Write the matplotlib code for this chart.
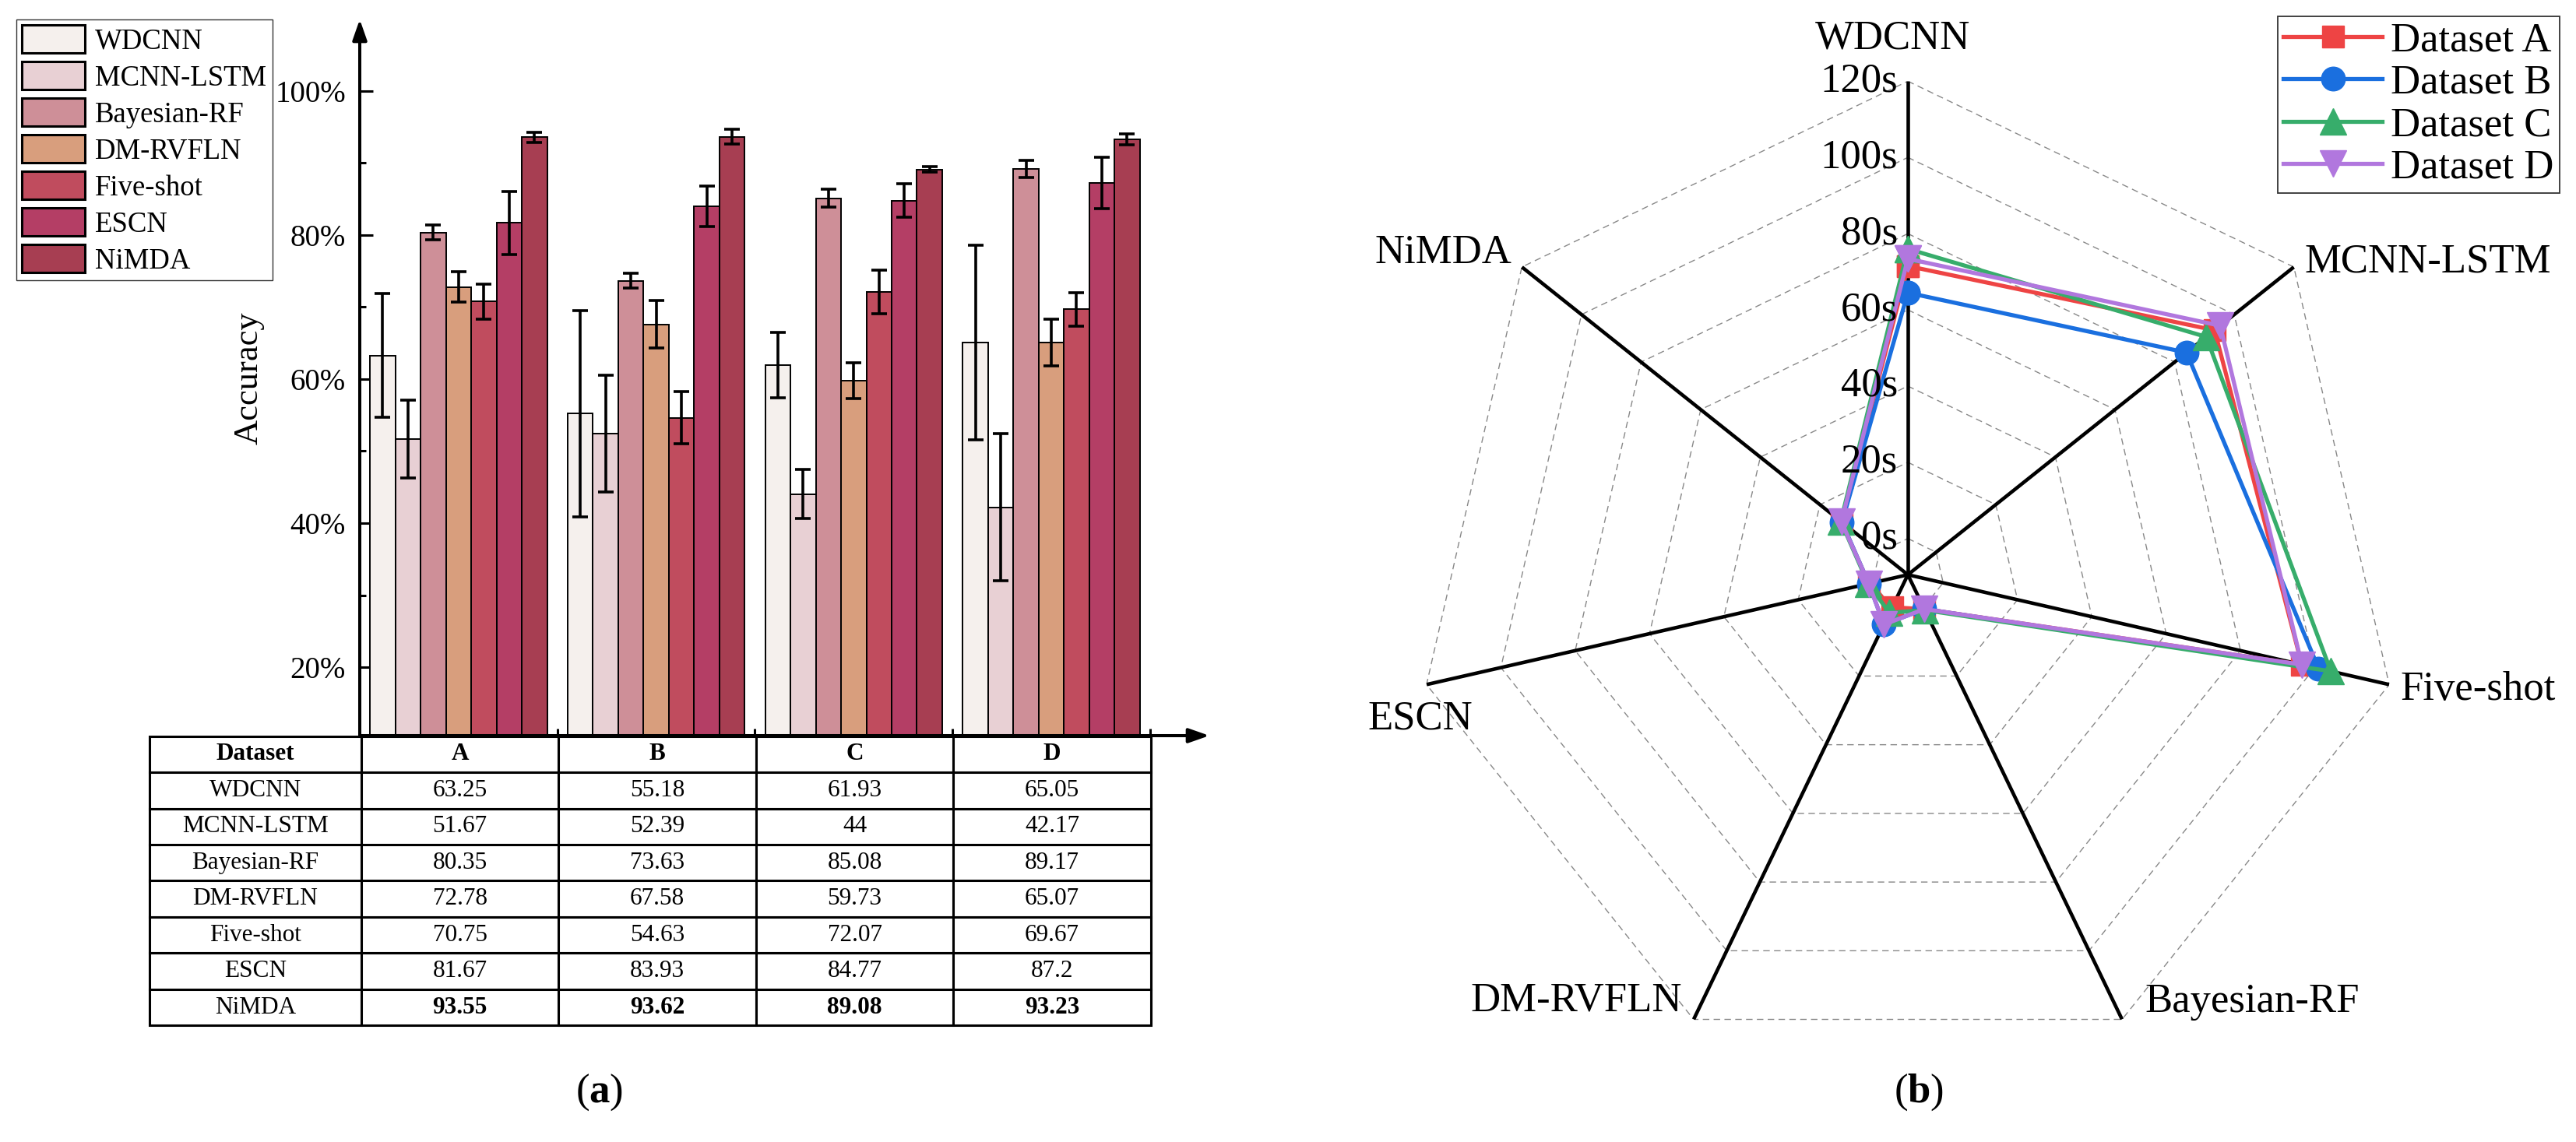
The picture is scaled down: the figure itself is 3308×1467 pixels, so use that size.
import numpy as np
import matplotlib
matplotlib.use('Agg')
import matplotlib.pyplot as plt
from matplotlib.patches import Patch

plt.rcParams['font.family'] = ['Liberation Serif', 'DejaVu Serif']
plt.rcParams['mathtext.fontset'] = 'custom'
plt.rcParams['mathtext.rm'] = 'Liberation Serif'
plt.rcParams['mathtext.bf'] = 'Liberation Serif:bold'

# ---- data: accuracy (%) per method on datasets A-D ----
datasets = ['A', 'B', 'C', 'D']
methods = ['WDCNN', 'MCNN-LSTM', 'Bayesian-RF', 'DM-RVFLN', 'Five-shot', 'ESCN', 'NiMDA']
acc_wdcnn = [63.25, 55.18, 61.93, 65.05]
acc_mcnn = [51.67, 52.39, 44, 42.17]
acc_bayes = [80.35, 73.63, 85.08, 89.17]
acc_dm = [72.78, 67.58, 59.73, 65.07]
acc_five = [70.75, 54.63, 72.07, 69.67]
acc_escn = [81.67, 83.93, 84.77, 87.2]
acc_nimda = [93.55, 93.62, 89.08, 93.23]
# error bar half widths
err_wdcnn = [8.6, 14.3, 4.5, 13.5]
err_mcnn = [5.4, 8.1, 3.4, 10.2]
err_bayes = [1.0, 1.0, 1.25, 1.15]
err_dm = [2.1, 3.3, 2.5, 3.2]
err_five = [2.4, 3.6, 3.0, 2.35]
err_escn = [4.4, 2.8, 2.35, 3.55]
err_nimda = [0.7, 1.0, 0.35, 0.75]

acc = [acc_wdcnn, acc_mcnn, acc_bayes, acc_dm, acc_five, acc_escn, acc_nimda]
err = [err_wdcnn, err_mcnn, err_bayes, err_dm, err_five, err_escn, err_nimda]
bar_colors = ['#F5F0ED', '#E8D0D4', '#CE8F98', '#D89E7D', '#C04C5E', '#B43E65', '#A73E52']

# ---- data: running time (s) for the radar chart ----
radar_axes = ['WDCNN', 'MCNN-LSTM', 'Five-shot', 'Bayesian-RF', 'DM-RVFLN', 'ESCN', 'NiMDA']
time_a = [71.5, 93.4, 96.5, 0.5, 0.0, 1.0, 12.8]
time_b = [64.5, 84.0, 101.0, 0.5, 5.0, 1.0, 12.6]
time_c = [76.0, 90.6, 104.3, 0.8, 1.6, 1.2, 13.0]
time_d = [73.4, 95.3, 96.5, 0.5, 5.0, 1.0, 12.8]
radar_ticks = [0, 20, 40, 60, 80, 100, 120]

W, H = 3308, 1467
fig = plt.figure(figsize=(W / 100, H / 100), dpi=100)


def box(x0, y0, x1, y1):
    # pixel box (top-left origin) -> figure fraction rect
    return [x0 / W, 1 - y1 / H, (x1 - x0) / W, (y1 - y0) / H]


# ================= (a) bar chart =================
ax = fig.add_axes(box(462, 25, 1553, 945))
ymin, ymax, xmax = 10.5, 109.9, 4.3
ax.set_xlim(0, xmax)
ax.set_ylim(ymin, ymax)
bw = 0.128
xc = np.arange(len(datasets)) + 0.5
for j, (vals, errs, col) in enumerate(zip(acc, err, bar_colors)):
    ax.bar(xc + (j - 3) * bw, vals, bw, yerr=errs, color=col, edgecolor='k',
           linewidth=1.4, capsize=7,
           error_kw=dict(elinewidth=2.6, capthick=2.6, ecolor='k'), zorder=2)

for s in ax.spines.values():
    s.set_visible(False)
arrow = dict(arrowstyle='-|>,head_length=0.4,head_width=0.14', mutation_scale=40,
             lw=2.9, color='k', shrinkA=0, shrinkB=0)
ax.annotate('', xy=(0, ymax), xytext=(0, ymin), arrowprops=arrow, annotation_clip=False)
ax.annotate('', xy=(xmax, ymin), xytext=(0, ymin), arrowprops=arrow, annotation_clip=False)

ax.set_yticks([20, 40, 60, 80, 100])
ax.set_yticklabels(['20%', '40%', '60%', '80%', '100%'])
ax.set_yticks([30, 50, 70, 90], minor=True)
ax.set_xticks([1, 2, 3, 4])
ax.set_xticklabels([])
ax.set_xticks(xc, minor=True)
ax.tick_params(axis='y', which='major', direction='in', length=12, width=2.2, labelsize=28, pad=13)
ax.tick_params(axis='y', which='minor', direction='in', length=6, width=2.2)
ax.tick_params(axis='x', which='major', direction='in', length=6.5, width=2.2)
ax.tick_params(axis='x', which='minor', direction='in', length=12, width=2.2)
fig.text(320 / W, 1 - 486 / H, 'Accuracy', rotation=90, ha='center', va='center', fontsize=32)

handles = [Patch(facecolor=c, edgecolor='k', linewidth=2.2) for c in bar_colors]
leg = fig.legend(handles, methods, loc='upper left', bbox_to_anchor=(21 / W, 1 - 25 / H),
                 fontsize=26.5, frameon=True, fancybox=False, edgecolor='k',
                 borderpad=0.2, labelspacing=0.24, handlelength=2.2, handleheight=1.1,
                 handletextpad=0.35, borderaxespad=0)
leg.get_frame().set_linewidth(1.0)

# table under the bars
tax = fig.add_axes(box(191.7, 945.7, 1477.7, 1317.3))
tax.axis('off')
cell_text = [['Dataset'] + datasets]
for m, vals in zip(methods, acc):
    cell_text.append([m] + [f'{v:g}' for v in vals])
tbl = tax.table(cellText=cell_text, cellLoc='center', bbox=[0, 0, 1, 1],
                colWidths=[272.3] + [253.5] * 4)
tbl.auto_set_font_size(False)
tbl.set_fontsize(22.5)
for (r, c), cell in tbl.get_celld().items():
    cell.set_linewidth(2.2)
    if r == 0 or (r == len(methods) and c > 0):
        cell.get_text().set_fontweight('bold')

fig.text(770 / W, 1 - 1403 / H, r'($\mathbf{a}$)', ha='center', va='center', fontsize=38)

# ================= (b) radar chart =================
rax = fig.add_axes(box(1816, 104.3, 3084, 1372.3), projection='polar')
rax.set_theta_offset(np.pi / 2)
rax.set_theta_direction(-1)
rmin = -9.5
rax.set_ylim(rmin, radar_ticks[-1])
rax.grid(False)
rax.set_xticks([])
rax.set_yticks([])
rax.spines['polar'].set_visible(False)

angles = np.arange(len(radar_axes)) * 2 * np.pi / len(radar_axes)
closed = np.append(angles, angles[0])
for r in radar_ticks:
    rax.plot(closed, np.full(len(closed), r), color='#888888', lw=1.0,
             ls=(0, (6, 4)), zorder=1)
for a in angles:
    rax.plot([a, a], [rmin, radar_ticks[-1]], color='k', lw=3.3, zorder=2,
             solid_capstyle='butt')

series = [('A', time_a, '#EE4444', 's', 20), ('B', time_b, '#1A6FDF', 'o', 22),
          ('C', time_c, '#37AD6B', '^', 25), ('D', time_d, '#B177DE', 'v', 25)]
for name, vals, col, mk, ms in series:
    rax.plot(closed, np.append(vals, vals[0]), color=col, lw=3.8, marker=mk, ms=ms,
             label=f'Dataset {name}', zorder=3, clip_on=False)

for r in radar_ticks:
    rax.annotate(f'{r}s', xy=(0, r), xytext=(-9.4, 0), textcoords='offset points',
                 ha='right', va='center', fontsize=38)

label_pos = {
    'WDCNN': ((-13.7, 39.6), 'center'),
    'MCNN-LSTM': ((10, 5), 'left'),
    'Five-shot': ((10.5, -5), 'left'),
    'Bayesian-RF': ((21, 16), 'left'),
    'DM-RVFLN': ((-11, 17), 'right'),
    'ESCN': ((-6, -32), 'center'),
    'NiMDA': ((-9.4, 13), 'right'),
}
for a, name in zip(angles, radar_axes):
    off, ha = label_pos[name]
    rax.annotate(name, xy=(a, radar_ticks[-1]), xytext=off, textcoords='offset points',
                 ha=ha, va='center', fontsize=38, annotation_clip=False)

leg2 = rax.legend(loc='upper right', bbox_to_anchor=(3287 / W, 1 - 20.7 / H),
                  bbox_transform=fig.transFigure, fontsize=38, frameon=True,
                  fancybox=False, edgecolor='k', borderpad=0.15, labelspacing=0.12,
                  handlelength=2.4, handletextpad=0.2, borderaxespad=0)
leg2.get_frame().set_linewidth(1.3)

fig.text(2464 / W, 1 - 1403 / H, r'($\mathbf{b}$)', ha='center', va='center', fontsize=38)

fig.savefig('out.png', dpi=100, facecolor='white')
